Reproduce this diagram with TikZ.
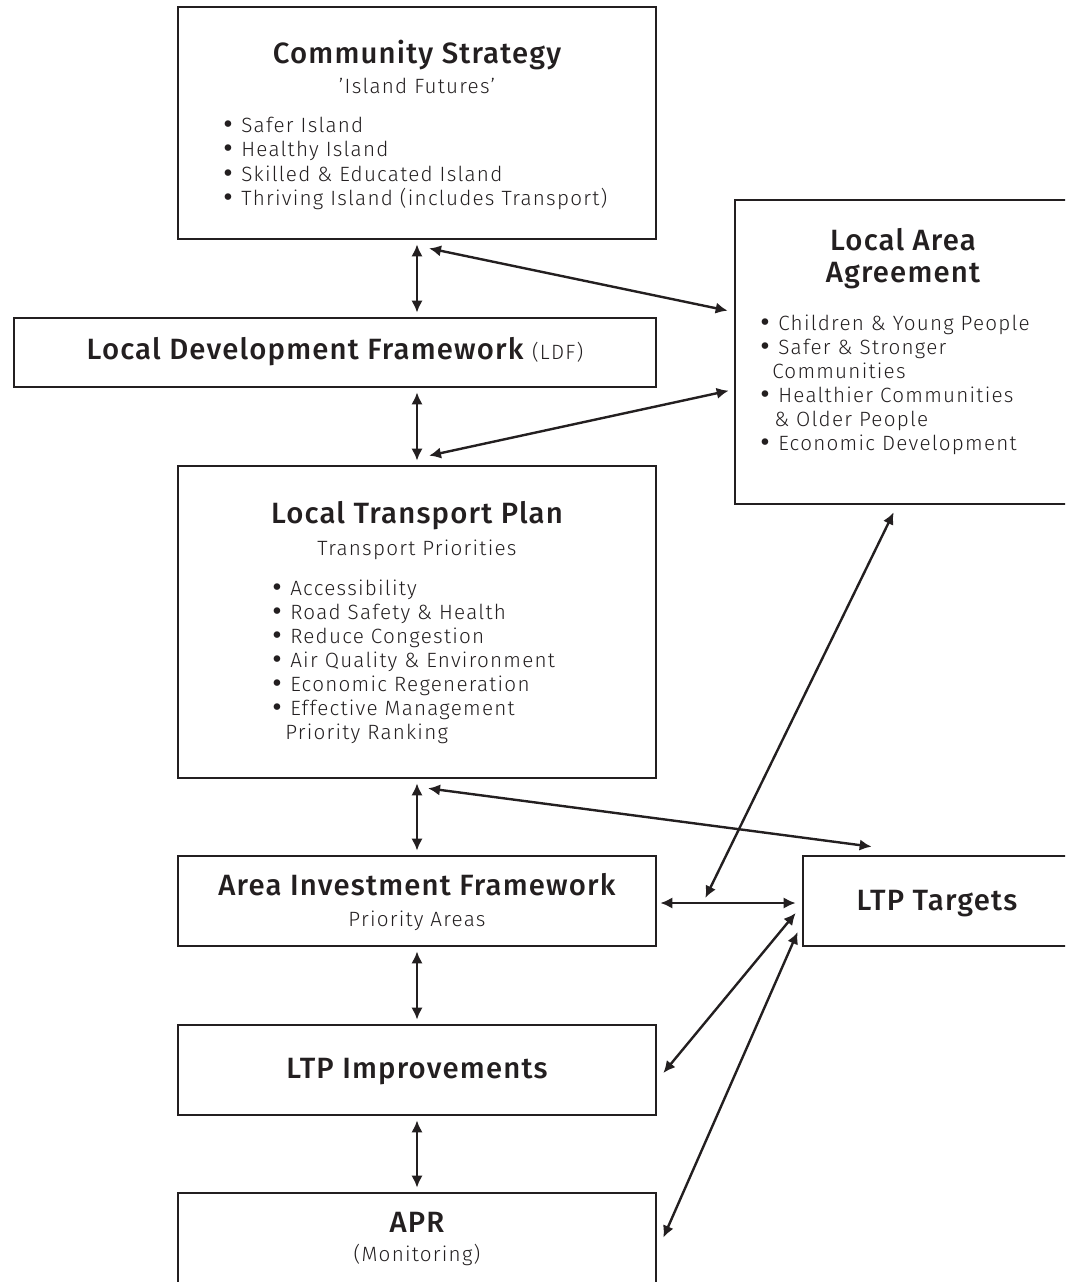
\documentclass[tikz,border=0pt]{standalone}
\usepackage{fontspec}
\setmainfont{Fira Sans}
\newfontfamily\headfont{Fira Sans Medium}[LetterSpace=4]
\newfontfamily\lightfont{Fira Sans Light}[LetterSpace=6]
\newfontfamily\bulfont{DejaVu Sans}
\newcommand\bul{{\bulfont\fontsize{17}{18}\selectfont •}\hspace{5pt}}
\usetikzlibrary{arrows.meta,calc,fit}
\definecolor{ink}{HTML}{231F20}

\begin{document}
\begin{tikzpicture}[x=0.75pt,y=-0.75pt,
  box/.style={draw=ink,line width=2pt,inner sep=0pt},
  head/.style={font=\headfont\fontsize{22}{26}\selectfont,text=ink,inner sep=0pt,anchor=base},
  sub/.style={font=\lightfont\fontsize{15.5}{18}\selectfont,text=ink,inner sep=0pt,anchor=base},
  item/.style={font=\lightfont\fontsize{15.5}{18}\selectfont,text=ink,inner sep=0pt,anchor=base west},
  link/.style={draw=ink,line width=1.8pt,
    {Latex[length=9pt,width=8.5pt]}-{Latex[length=9pt,width=8.5pt]},
    shorten <=3pt,shorten >=3pt}]

\useasboundingbox (0,0) rectangle (1065,1282);
\clip (0,0) rectangle (1065,1282);

% boxes
\node[box,fit={(178,7) (656,239)}] (cs) {};
\node[box,fit={(14,318) (656,387)}] (ldf) {};
\node[box,fit={(178,466) (656,778)}] (ltp) {};
\node[box,fit={(178,856) (656,946)}] (aif) {};
\node[box,fit={(178,1025) (656,1115)}] (ltpi) {};
\node[box,fit={(178,1193) (656,1320)}] (apr) {};
\node[box,fit={(735,200) (1110,504)}] (laa) {};
\node[box,fit={(803,856) (1110,946)}] (lt) {};

% Community Strategy
\node[head] (cst) at (417,63) {Community Strategy};
\node[sub] (css) at (417,93) {’Island Futures’};
\node[item] (cs1) at (221,132) {\bul Safer Island};
\node[item] (cs2) at (221,156.5) {\bul Healthy Island};
\node[item] (cs3) at (221,181) {\bul Skilled \& Educated Island};
\node[item] (cs4) at (221,205.5) {\bul Thriving Island (includes Transport)};

% Local Development Framework
\node[head] (ldft) at (335,359) {Local Development Framework {\lightfont\fontsize{15.5}{18}\selectfont (LDF)}};

% Local Transport Plan
\node[head] (ltpt) at (417,523) {Local Transport Plan};
\node[sub] (ltps) at (417,555) {Transport Priorities};
\node[item] (ltp1) at (270,595) {\bul Accessibility};
\node[item] (ltp2) at (270,619) {\bul Road Safety \& Health};
\node[item] (ltp3) at (270,643) {\bul Reduce Congestion};
\node[item] (ltp4) at (270,667) {\bul Air Quality \& Environment};
\node[item] (ltp5) at (270,691) {\bul Economic Regeneration};
\node[item] (ltp6) at (270,715) {\bul Effective Management};
\node[item] (ltp7) at (285,739) {Priority Ranking};

% Area Investment Framework
\node[head] (aift) at (417,895) {Area Investment Framework};
\node[sub] (aifs) at (417,926) {Priority Areas};

% LTP Improvements
\node[head] (ltpit) at (417,1078) {LTP Improvements};

% APR
\node[head] (aprt) at (417,1232) {APR};
\node[sub] (aprs) at (417,1261) {(Monitoring)};

% Local Area Agreement
\node[head] (laat1) at (903,250) {Local Area};
\node[head] (laat2) at (903,282) {Agreement};
\node[item] (laa1) at (758,330) {\bul Children \& Young People};
\node[item] (laa2) at (758,354) {\bul Safer \& Stronger};
\node[item] (laa3) at (772,378) {Communities};
\node[item] (laa4) at (758,402) {\bul Healthier Communities};
\node[item] (laa5) at (774,426) {\& Older People};
\node[item] (laa6) at (758,450) {\bul Economic Development};

% LTP Targets
\node[head] (ltt) at (937,910) {LTP Targets};

% vertical chain
\draw[link] (cs.south) -- (cs.south |- ldf.north);
\draw[link] (cs.south |- ldf.south) -- (ltp.north);
\draw[link] (ltp.south) -- (aif.north);
\draw[link] (aif.south) -- (ltpi.north);
\draw[link] (ltpi.south) -- (apr.north);

% links to the Local Area Agreement
\draw[link,shorten <=0pt,shorten >=0pt] ($(cs.south)+(12,8)$) -- ($(laa.north west)+(-6,112)$);
\draw[link,shorten <=0pt,shorten >=0pt] ($(ltp.north)+(12,-9)$) -- ($(laa.north west)+(-5,192)$);

% links to the LTP Targets
\coordinate (mid) at ($(aif.east)+(48,-3)$);
\draw[link,shorten <=0pt,shorten >=0pt] ($(ltp.south)+(11,9)$) -- ($(lt.north west)+(70,-8)$);
\draw[link,shorten <=0pt,shorten >=0pt] ($(aif.east)+(3,2)$) -- ($(lt.west)+(-6,2)$);
\draw[link,shorten <=0pt,shorten >=0pt] ($(laa.south west)+(160,7)$) -- (mid);
\draw[link,shorten <=0pt,shorten >=0pt] ($(ltpi.east)+(6,3)$) -- ($(lt.west)+(-6,12)$);
\draw[link,shorten <=0pt,shorten >=0pt] ($(apr.north east)+(6,46)$) -- ($(lt.west)+(-4,31)$);

\end{tikzpicture}
\end{document}
